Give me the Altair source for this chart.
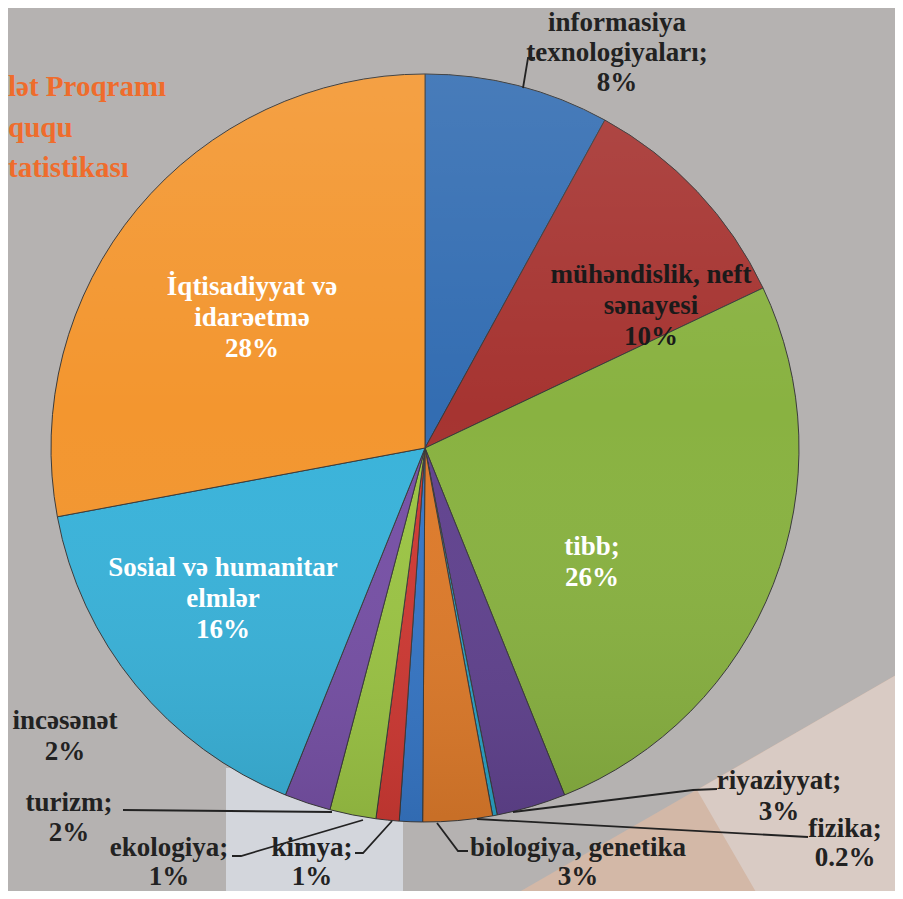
import altair as alt
import pandas as pd

# ---- data ----
categories = [
    "informasiya texnologiyaları", "mühəndislik, neft sənayesi", "tibb", "riyaziyyat",
    "fizika", "biologiya, genetika", "kimya", "ekologiya", "turizm", "incəsənət",
    "Sosial və humanitar elmlər", "İqtisadiyyat və idarəetmə",
]
shares = [8, 10, 26, 3, 0.2, 3, 1, 1, 2, 2, 16, 28]
colors = ["#336db2", "#a63431", "#89b241", "#61438f", "#2aa3c6", "#de7b2b",
          "#3777c6", "#cf3a34", "#9cc545", "#7751a6", "#3ab3da", "#f3962f"]

label_texts = [
    "informasiya\ntexnologiyaları;\n8%", "mühəndislik, neft\nsənayesi\n10%", "tibb;\n26%",
    "riyaziyyat;\n3%", "fizika;\n0.2%", "biologiya, genetika\n3%", "kimya;\n1%",
    "ekologiya;\n1%", "turizm;\n2%", "incəsənət\n2%", "Sosial və humanitar\nelmlər\n16%",
    "İqtisadiyyat və\nidarəetmə\n28%",
]

title_lines = ["lət Proqramı", "ququ", "tatistikası"]

SERIF = "'Liberation Serif', 'Times New Roman', 'DejaVu Serif', serif"

# ---- layout (pixel positions of annotations) ----
CX, CY, R = 417, 440, 374
W, H = 887, 883
label_x = [609, 643, 584, 771, 837, 570, 304, 161, 61, 57, 215, 244]
label_y = [15, 267, 539, 773, 821, 840, 840, 840, 795, 713, 560, 279]   # first line
label_lh = [30, 31, 31, 31, 29, 29, 29, 29, 30, 31, 31, 31]
label_color = ["#222222", "#1a1a1a", "white", "#222222", "#222222", "#222222", "#222222",
               "#222222", "#222222", "#222222", "white", "white"]

leaders = {
    "informasiya": [(515, 80), (520, 50), (527, 50)],
    "turizm": [(115, 802), (324, 804)],
    "ekologiya": [(224, 848), (233, 848), (355, 812)],
    "kimya": [(347, 845), (355, 845), (384, 813)],
    "biologiya": [(429, 815), (450, 843), (460, 843)],
    "riyaziyyat": [(505, 804), (685, 782), (709, 781)],
    "fizika": [(469, 811), (800, 829)],
}

# ---- tables ----
pie_df = pd.DataFrame({"cat": categories, "share": shares, "order": list(range(len(categories)))})
lab_df = pd.DataFrame({"text": label_texts, "x": label_x, "y": label_y,
                       "color": label_color, "lh": label_lh})
lead_rows = []
for k, pts in leaders.items():
    for i, (x, y) in enumerate(pts):
        lead_rows.append({"key": k, "i": i, "x": x, "y": y})
lead_df = pd.DataFrame(lead_rows)
title_df = pd.DataFrame({"t": title_lines, "y": [79, 120, 160]})

# background decorations
peach_df = pd.DataFrame({"x": [499, 895], "y": [891, 663], "y2": [891, 891]})
light_df = pd.DataFrame({"x": [689, 752, 895], "y": [782, 745.7, 663], "y2": [782, 891, 891]})
stripe_df = pd.DataFrame({"x": [218], "x2": [395], "y": [760], "y2": [891]})

noscale = dict(scale=None)

peach = alt.Chart(peach_df).mark_area(color="#d6b8a6", opacity=0.9).encode(
    x=alt.X("x:Q", **noscale), y=alt.Y("y:Q", **noscale), y2="y2:Q")
light = alt.Chart(light_df).mark_area(color="#d9cbc4").encode(
    x=alt.X("x:Q", **noscale), y=alt.Y("y:Q", **noscale), y2="y2:Q")
stripe = alt.Chart(stripe_df).mark_rect(color="#d3d6dc").encode(
    x=alt.X("x:Q", **noscale), x2="x2:Q", y=alt.Y("y:Q", **noscale), y2="y2:Q")

pie = alt.Chart(pie_df).mark_arc(radius=R, stroke="#3a3a3a", strokeWidth=1).encode(
    theta=alt.Theta("share:Q", stack=True),
    order=alt.Order("order:Q"),
    color=alt.Color("cat:N", scale=alt.Scale(domain=categories, range=colors), legend=None),
    x=alt.value(CX), y=alt.value(CY),
)

shade = alt.Chart(pie_df.head(1)).mark_arc(
    radius=R, theta=0, theta2=6.2832,
    color=alt.LinearGradient(
        gradient="linear", x1=0, y1=0, x2=0, y2=1,
        stops=[alt.GradientStop(color="rgba(255,255,255,0.10)", offset=0),
               alt.GradientStop(color="rgba(255,255,255,0)", offset=0.45),
               alt.GradientStop(color="rgba(0,0,0,0.10)", offset=1)]),
).encode(x=alt.value(CX), y=alt.value(CY))

lines = alt.Chart(lead_df).mark_line(color="#222222", strokeWidth=1.8).encode(
    x=alt.X("x:Q", **noscale), y=alt.Y("y:Q", **noscale),
    detail="key:N", order="i:Q")

label_layers = []
for lh in sorted(set(label_lh)):
    sub = lab_df[lab_df["lh"] == lh]
    label_layers.append(
        alt.Chart(sub).mark_text(
            font=SERIF, fontWeight="bold", fontSize=27, lineBreak="\n",
            lineHeight=lh, align="center", baseline="middle").encode(
            x=alt.X("x:Q", **noscale), y=alt.Y("y:Q", **noscale),
            text="text:N", color=alt.Color("color:N", scale=None))
    )

title = alt.Chart(title_df).mark_text(
    font=SERIF, fontWeight="bold", fontSize=29, color="#ef6c2c",
    align="left", baseline="middle").encode(
    x=alt.value(0), y=alt.Y("y:Q", **noscale), text="t:N")

chart = alt.layer(stripe, peach, light, pie, shade, lines, *label_layers, title).properties(
    width=W, height=H, background="#b5b2b1", padding=0,
    autosize=alt.AutoSizeParams(type="none"),
).configure_view(stroke=None)

chart.save("out.html", embed_options={"renderer": "svg", "actions": False})
